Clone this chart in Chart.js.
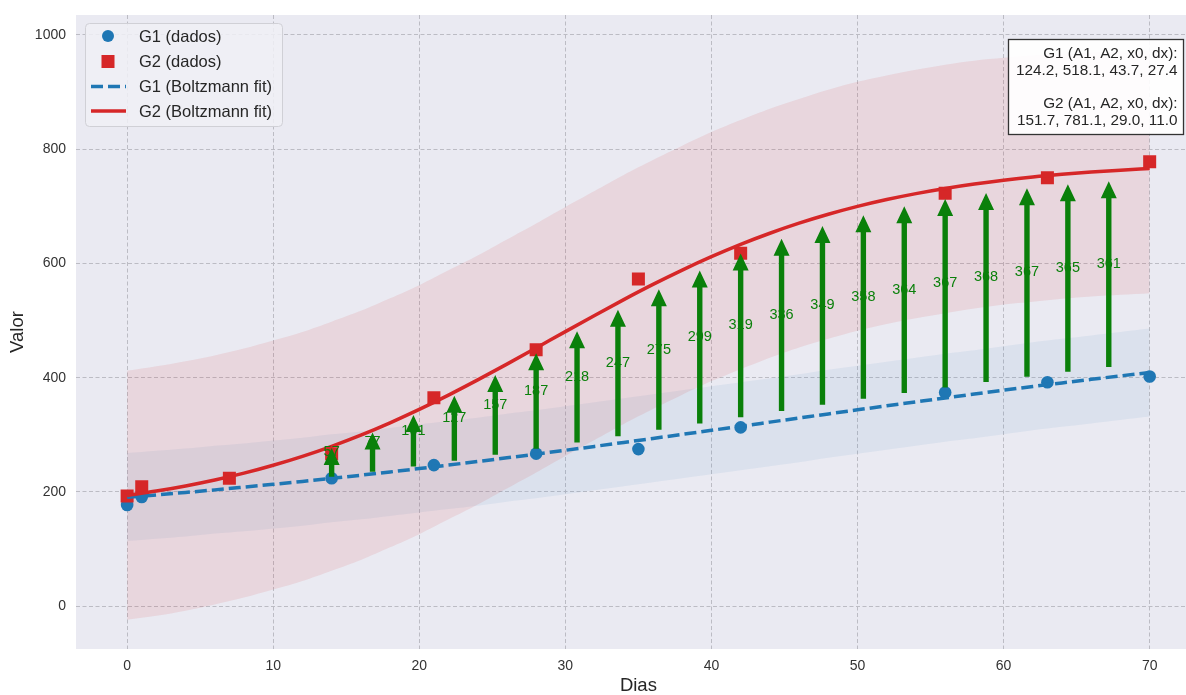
<!DOCTYPE html>
<html><head><meta charset="utf-8">
<script src="https://cdn.jsdelivr.net/npm/chart.js@4.4.0/dist/chart.umd.min.js"></script>
<style>html,body{margin:0;padding:0;background:#fff;overflow:hidden;width:1186px;height:695px}canvas{display:block}</style>
</head><body>
<canvas id="c" width="1210" height="695" style="width:1210px;height:695px"></canvas>
<script>
// ---- data ----
const xTicks = [0,10,20,30,40,50,60,70];
const yTicks = [0,200,400,600,800,1000];

const g1X = [0,1,14,21,28,35,42,56,63,70];
const g1Y = [177,191,224,247,267,275,313,374,392,402];
const g2X = [0,1,7,14,21,28,35,42,56,63,70];
const g2Y = [193,209,224,267,365,449,573,618,723,750,778];

const fitX  = [0,2,4,6,8,10,12,14,16,18,20,22,24,26,28,30,32,34,36,38,40,42,44,46,48,50,52,54,56,58,60,62,64,66,68,70];
const g1Fit = [190.6,194.8,199.1,203.6,208.4,213.3,218.4,223.8,229.3,235.0,240.9,247.0,253.3,259.7,266.2,272.9,279.7,286.7,293.7,300.7,307.9,315.0,322.2,329.4,336.6,343.7,350.8,357.7,364.6,371.4,378.1,384.6,390.9,397.1,403.2,409.0];
const g2Fit = [193.8,201.5,210.5,220.9,232.9,246.7,262.3,279.9,299.4,321.0,344.4,369.5,396.1,423.7,452.1,480.7,509.0,536.7,563.3,588.4,611.8,633.4,652.9,670.5,686.1,699.9,711.9,722.3,731.3,739.0,745.6,751.3,756.0,760.0,763.4,766.3];
const g1Upper = [268,272,276,281,285,290,295,301,306,312,318,324,330,337,343,350,357,364,371,378,385,392,399,406,414,421,428,435,442,448,455,462,468,474,480,486];
const g1Lower = [114,118,122,127,131,136,141,147,152,158,164,170,176,183,189,196,203,210,217,224,231,238,245,252,260,267,274,281,288,294,301,308,314,320,326,332];
const g2Upper = [412,420,429,439,451,465,480,498,517,539,562,588,614,642,670,699,727,755,781,806,830,851,871,888,904,918,929,939,948,955,960,964,967,969,971,972];
const g2Lower = [-24,-17,-8,3,15,29,44,62,81,103,126,152,178,206,234,263,291,319,345,370,394,415,435,453,468,482,494,504,513,521,528,533,538,542,545,548];

const arrowX    = [14,16.8,19.6,22.4,25.2,28,30.8,33.6,36.4,39.2,42,44.8,47.6,50.4,53.2,56,58.8,61.6,64.4,67.2];
const arrowFrom = [223.8,231.5,239.7,248.2,257.1,266.2,275.6,285.3,295.1,305.0,315.0,325.1,335.1,345.1,355.0,364.6,374.1,383.3,392.2,400.8];
const arrowTo   = [279.9,307.8,339.6,374.7,412.6,452.1,492.1,531.3,568.4,602.7,633.4,660.2,683.1,702.4,718.3,731.3,741.8,750.2,756.9,762.1];
const arrowLabels = ['57','77','101','127','157','187','218','247','275','299','319','336','349','358','364','367','368','367','365','361'];

const paramLines = ['G1 (A1, A2, x0, dx):','124.2, 518.1, 43.7, 27.4','','G2 (A1, A2, x0, dx):','151.7, 781.1, 29.0, 11.0'];

// ---- styling ----
const FONT = '"Liberation Sans", Arial, Helvetica, sans-serif';
const BLUE = '#1f77b4', RED = '#d62728', GREEN = '#0a800a';
const pts = (xs, ys) => xs.map((x, i) => ({x, y: ys[i]}));

const bgPlugin = {
  id: 'bg',
  beforeDraw(chart) {
    const {ctx, chartArea: a} = chart;
    ctx.save();
    ctx.fillStyle = '#fff'; ctx.fillRect(0, 0, chart.width, chart.height);
    ctx.fillStyle = '#eaeaf2'; ctx.fillRect(a.left, a.top, a.right - a.left, a.bottom - a.top);
    ctx.restore();
  }
};

const arrowPlugin = {
  id: 'arrows',
  afterDatasetsDraw(chart) {
    const {ctx, chartArea: a} = chart;
    const xs = chart.scales.x, ys = chart.scales.y;
    ctx.save();
    ctx.beginPath(); ctx.rect(a.left, a.top, a.right - a.left, a.bottom - a.top); ctx.clip();
    ctx.fillStyle = GREEN;
    for (let i = 0; i < arrowX.length; i++) {
      const px = xs.getPixelForValue(arrowX[i]);
      const p0 = ys.getPixelForValue(arrowFrom[i]);
      const p1 = ys.getPixelForValue(arrowTo[i]);
      const L = p0 - p1, s = 0.05 * L;
      const tail = p0 - s, tip = p1 + s;
      const hl = Math.min(17, tail - tip), hw = 8, sw = 2.7;
      ctx.beginPath();
      ctx.moveTo(px - sw, tail);
      ctx.lineTo(px - sw, tip + hl);
      ctx.lineTo(px - hw, tip + hl);
      ctx.lineTo(px, tip);
      ctx.lineTo(px + hw, tip + hl);
      ctx.lineTo(px + sw, tip + hl);
      ctx.lineTo(px + sw, tail);
      ctx.closePath();
      ctx.fill();
    }
    ctx.font = '14.5px ' + FONT;
    ctx.textAlign = 'center'; ctx.textBaseline = 'middle';
    for (let i = 0; i < arrowX.length; i++) {
      const px = xs.getPixelForValue(arrowX[i]);
      const pm = ys.getPixelForValue((arrowFrom[i] + arrowTo[i]) / 2) - 10;
      ctx.fillText(arrowLabels[i], px, pm);
    }
    ctx.restore();
  }
};

function roundRect(ctx, x, y, w, h, r) {
  ctx.beginPath();
  ctx.moveTo(x + r, y); ctx.lineTo(x + w - r, y); ctx.arcTo(x + w, y, x + w, y + r, r);
  ctx.lineTo(x + w, y + h - r); ctx.arcTo(x + w, y + h, x + w - r, y + h, r);
  ctx.lineTo(x + r, y + h); ctx.arcTo(x, y + h, x, y + h - r, r);
  ctx.lineTo(x, y + r); ctx.arcTo(x, y, x + r, y, r); ctx.closePath();
}

const legendPlugin = {
  id: 'customLegend',
  afterDraw(chart) {
    const ctx = chart.ctx;
    const ds = chart.data.datasets;
    const items = [ds[4], ds[5], ds[6], ds[7]];
    ctx.save();
    roundRect(ctx, 85.5, 23.5, 197, 103, 4);
    ctx.fillStyle = 'rgba(240,240,246,0.85)'; ctx.fill();
    ctx.strokeStyle = '#d0d0d6'; ctx.lineWidth = 1; ctx.stroke();
    const rows = [36, 61.5, 86.5, 111];
    items.forEach((d, i) => {
      const y = rows[i];
      if (i === 0) {
        ctx.fillStyle = BLUE; ctx.beginPath(); ctx.arc(108, y, 6, 0, Math.PI * 2); ctx.fill();
      } else if (i === 1) {
        ctx.fillStyle = RED; ctx.fillRect(101.5, y - 6.5, 13, 13);
      } else {
        ctx.strokeStyle = d.borderColor; ctx.lineWidth = 3.5;
        ctx.setLineDash(d.borderDash || []);
        ctx.beginPath(); ctx.moveTo(91, y); ctx.lineTo(126, y); ctx.stroke();
        ctx.setLineDash([]);
      }
      ctx.fillStyle = '#262626';
      ctx.font = '16.5px ' + FONT; ctx.textAlign = 'left'; ctx.textBaseline = 'middle';
      ctx.fillText(d.label, 139, y + 1);
    });
    // parameter box
    ctx.fillStyle = 'rgba(255,255,255,0.92)';
    ctx.fillRect(1008.5, 39.5, 175, 95);
    ctx.strokeStyle = '#333'; ctx.lineWidth = 1.3;
    ctx.strokeRect(1008.5, 39.5, 175, 95);
    ctx.fillStyle = '#262626'; ctx.font = '15.3px ' + FONT;
    ctx.textAlign = 'right'; ctx.textBaseline = 'middle';
    const ly = [53.5, 70.3, 87, 103.5, 120.3];
    paramLines.forEach((t, i) => { if (t) ctx.fillText(t, 1177.5, ly[i]); });
    ctx.restore();
  }
};

const bandLine = { pointRadius: 0, borderWidth: 0, showLine: true, tension: 0.3 };

new Chart(document.getElementById('c'), {
  type: 'line',
  data: {
    datasets: [
      Object.assign({ label: 'G2 band upper', data: pts(fitX, g2Upper), fill: '+1', backgroundColor: 'rgba(214,39,40,0.10)', borderColor: 'rgba(0,0,0,0)', order: 4 }, bandLine),
      Object.assign({ label: 'G2 band lower', data: pts(fitX, g2Lower), fill: false, borderColor: 'rgba(0,0,0,0)', order: 4 }, bandLine),
      Object.assign({ label: 'G1 band upper', data: pts(fitX, g1Upper), fill: '+1', backgroundColor: 'rgba(31,119,180,0.07)', borderColor: 'rgba(0,0,0,0)', order: 5 }, bandLine),
      Object.assign({ label: 'G1 band lower', data: pts(fitX, g1Lower), fill: false, borderColor: 'rgba(0,0,0,0)', order: 5 }, bandLine),
      { label: 'G1 (dados)', data: pts(g1X, g1Y), showLine: false, pointStyle: 'circle', pointRadius: 6.3, pointBackgroundColor: BLUE, pointBorderWidth: 0, borderColor: BLUE, backgroundColor: BLUE, order: 2.2 },
      { label: 'G2 (dados)', data: pts(g2X, g2Y), showLine: false, pointStyle: 'rect', pointRadius: 9.2, pointBackgroundColor: RED, pointBorderWidth: 0, borderColor: RED, backgroundColor: RED, order: 2.1 },
      { label: 'G1 (Boltzmann fit)', data: pts(fitX, g1Fit), borderColor: BLUE, borderWidth: 3.5, borderDash: [12, 5], pointRadius: 0, fill: false, cubicInterpolationMode: 'monotone', order: 1.2 },
      { label: 'G2 (Boltzmann fit)', data: pts(fitX, g2Fit), borderColor: RED, borderWidth: 3.5, pointRadius: 0, fill: false, cubicInterpolationMode: 'monotone', order: 1.1 }
    ]
  },
  options: {
    responsive: false,
    devicePixelRatio: 1,
    animation: false,
    events: [],
    layout: { padding: { left: 0, right: 0, top: 15, bottom: 0 } },
    plugins: { legend: { display: false }, tooltip: { enabled: false } },
    scales: {
      x: {
        type: 'linear', min: -3.5, max: 73.5,
        afterBuildTicks: s => { s.ticks = xTicks.map(v => ({ value: v })); },
        afterFit: s => { s.height = 46; s.paddingLeft = 0; s.paddingRight = 0; },
        grid: { color: '#bcbcc4', lineWidth: 1, drawTicks: false },
        border: { display: false, dash: [4, 2.5] },
        ticks: { padding: 9, color: '#333', font: { family: FONT, size: 14 }, callback: v => String(v) },
        title: { display: true, text: 'Dias', color: '#262626', font: { family: FONT, size: 18.5, lineHeight: 1 }, padding: { top: 0, bottom: 0 } }
      },
      y: {
        type: 'linear', min: -75, max: 1035,
        afterBuildTicks: s => { s.ticks = yTicks.map(v => ({ value: v })); },
        afterFit: s => { s.width = 76; s.paddingTop = 0; s.paddingBottom = 0; },
        grid: { color: '#bcbcc4', lineWidth: 1, drawTicks: false },
        border: { display: false, dash: [4, 2.5] },
        ticks: { padding: 10, color: '#333', font: { family: FONT, size: 14 }, callback: v => String(v) },
        title: { display: true, text: 'Valor', color: '#262626', font: { family: FONT, size: 18.5, lineHeight: 1 }, padding: { top: 9, bottom: 0 } }
      }
    }
  },
  plugins: [bgPlugin, arrowPlugin, legendPlugin]
});
</script>
</body></html>
